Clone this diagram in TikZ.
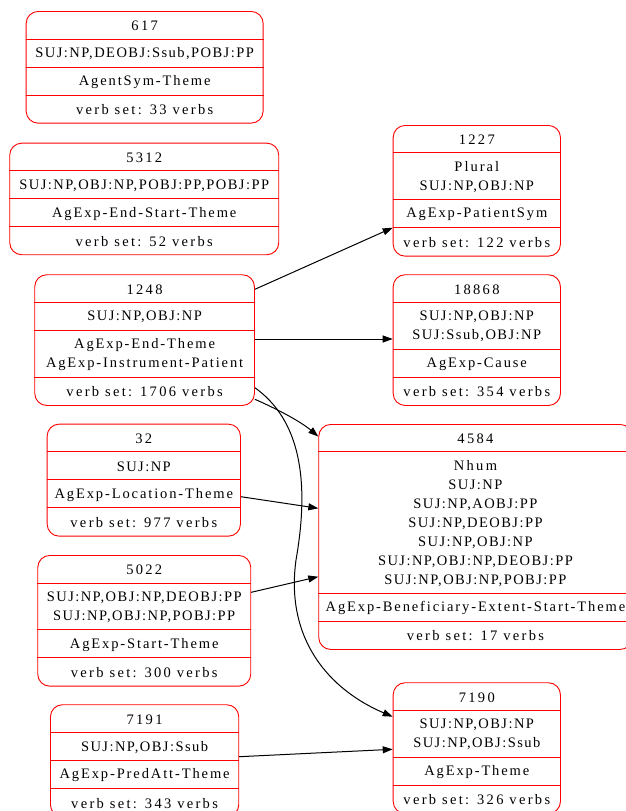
\documentclass[tikz,border=0pt]{standalone}
\usepackage{fontspec}
\setmainfont{Liberation Serif}[LetterSpace=10]
\usetikzlibrary{arrows.meta}
\tikzset{
  recbox/.style={draw=red, line width=0.9pt, rounded corners=12pt, fill=white, inner sep=0pt, anchor=north west},
  divline/.style={draw=red, line width=0.9pt},
  txt/.style={inner sep=0pt, align=center, yshift=-1pt, font=\fontsize{14.5}{19}\selectfont, text=black},
  lab/.style={txt, font=\fontsize{14.5}{19}\selectfont\addfontfeature{LetterSpace=13}},
  cnt/.style={txt, font=\fontsize{14.5}{19}\selectfont\addfontfeature{LetterSpace=16}},
  edge/.style={draw=black, line width=1pt, -{Triangle[length=10pt,width=7pt]}}
}
\begin{document}
\begin{tikzpicture}[x=1pt,y=-1pt]
\clip (0,0) rectangle (626,811);
\useasboundingbox (0,0) rectangle (626,811);

% ---- 617
\node[recbox, minimum width=237pt, minimum height=111.7pt] (n617) at (25.7,11) {};
\foreach \yy in {39,67,95} \draw[divline] (n617.west |- 0,\yy) -- (n617.east |- 0,\yy);
\node[cnt] at (n617.center |- 0,25) {617};
\node[txt] at (n617.center |- 0,53) {SUJ:NP,DEOBJ:Ssub,POBJ:PP};
\node[lab] at (n617.center |- 0,81) {AgentSym-Theme};
\node[cnt] at (n617.center |- 0,109) {verb set: 33 verbs};

% ---- 5312
\node[recbox, minimum width=269pt, minimum height=111.6pt] (n5312) at (9.3,142.7) {};
\foreach \yy in {170.7,198.7,226.7} \draw[divline] (n5312.west |- 0,\yy) -- (n5312.east |- 0,\yy);
\node[cnt] at (n5312.center |- 0,156.7) {5312};
\node[txt] at (n5312.center |- 0,184.7) {SUJ:NP,OBJ:NP,POBJ:PP,POBJ:PP};
\node[lab] at (n5312.center |- 0,212.7) {AgExp-End-Start-Theme};
\node[cnt] at (n5312.center |- 0,240.7) {verb set: 52 verbs};

% ---- 1248
\node[recbox, minimum width=219.7pt, minimum height=130.7pt] (n1248) at (34.3,274.3) {};
\foreach \yy in {302.3,330.3,377} \draw[divline] (n1248.west |- 0,\yy) -- (n1248.east |- 0,\yy);
\node[cnt] at (n1248.center |- 0,288.3) {1248};
\node[txt] at (n1248.center |- 0,316.3) {SUJ:NP,OBJ:NP};
\node[lab] at (n1248.center |- 0,353.7) {AgExp-End-Theme\\AgExp-Instrument-Patient};
\node[cnt] at (n1248.center |- 0,391) {verb set: 1706 verbs};

% ---- 32
\node[recbox, minimum width=193.3pt, minimum height=112pt] (n32) at (46.7,423.7) {};
\foreach \yy in {451.7,479.7,507.7} \draw[divline] (n32.west |- 0,\yy) -- (n32.east |- 0,\yy);
\node[cnt] at (n32.center |- 0,437.7) {32};
\node[txt] at (n32.center |- 0,465.7) {SUJ:NP};
\node[lab] at (n32.center |- 0,493.7) {AgExp-Location-Theme};
\node[cnt] at (n32.center |- 0,521.7) {verb set: 977 verbs};

% ---- 5022
\node[recbox, minimum width=213pt, minimum height=130.7pt] (n5022) at (37.3,555) {};
\foreach \yy in {583,629.7,657.7} \draw[divline] (n5022.west |- 0,\yy) -- (n5022.east |- 0,\yy);
\node[cnt] at (n5022.center |- 0,569) {5022};
\node[txt] at (n5022.center |- 0,606.3) {SUJ:NP,OBJ:NP,DEOBJ:PP\\SUJ:NP,OBJ:NP,POBJ:PP};
\node[lab] at (n5022.center |- 0,643.7) {AgExp-Start-Theme};
\node[cnt] at (n5022.center |- 0,671.7) {verb set: 300 verbs};

% ---- 7191
\node[recbox, minimum width=188.3pt, minimum height=112pt] (n7191) at (50,704.3) {};
\foreach \yy in {732.3,760.3,788.3} \draw[divline] (n7191.west |- 0,\yy) -- (n7191.east |- 0,\yy);
\node[cnt] at (n7191.center |- 0,718.3) {7191};
\node[txt] at (n7191.center |- 0,746.3) {SUJ:NP,OBJ:Ssub};
\node[lab] at (n7191.center |- 0,774.3) {AgExp-PredAtt-Theme};
\node[cnt] at (n7191.center |- 0,802.3) {verb set: 343 verbs};

% ---- 1227
\node[recbox, minimum width=167.3pt, minimum height=130.7pt] (n1227) at (392.7,125) {};
\foreach \yy in {152.3,199.7,227.7} \draw[divline] (n1227.west |- 0,\yy) -- (n1227.east |- 0,\yy);
\node[cnt] at (n1227.center |- 0,138.7) {1227};
\node[txt] at (n1227.center |- 0,176) {{\addfontfeature{LetterSpace=14}Plural}\\SUJ:NP,OBJ:NP};
\node[lab] at (n1227.center |- 0,213.7) {AgExp-PatientSym};
\node[cnt] at (n1227.center |- 0,241.7) {verb set: 122 verbs};

% ---- 18868
\node[recbox, minimum width=167.3pt, minimum height=130.7pt] (n18868) at (392.7,274.3) {};
\foreach \yy in {302.3,349,377} \draw[divline] (n18868.west |- 0,\yy) -- (n18868.east |- 0,\yy);
\node[cnt] at (n18868.center |- 0,288.3) {18868};
\node[txt] at (n18868.center |- 0,325.7) {SUJ:NP,OBJ:NP\\SUJ:Ssub,OBJ:NP};
\node[lab] at (n18868.center |- 0,363) {AgExp-Cause};
\node[cnt] at (n18868.center |- 0,391) {verb set: 354 verbs};

% ---- 4584
\node[recbox, minimum width=313.4pt, minimum height=225pt] (n4584) at (318.3,424) {};
\foreach \yy in {451.7,593,621} \draw[divline] (n4584.west |- 0,\yy) -- (n4584.east |- 0,\yy);
\node[cnt] at (n4584.center |- 0,437.8) {4584};
\node[txt] at (n4584.center |- 0,522.3) {{\addfontfeature{LetterSpace=16}Nhum}\\SUJ:NP\\SUJ:NP,AOBJ:PP\\SUJ:NP,DEOBJ:PP\\SUJ:NP,OBJ:NP\\SUJ:NP,OBJ:NP,DEOBJ:PP\\SUJ:NP,OBJ:NP,POBJ:PP};
\node[lab] at (n4584.center |- 0,607) {AgExp-Beneficiary-Extent-Start-Theme};
\node[cnt] at (n4584.center |- 0,635) {verb set: 17 verbs};

% ---- 7190
\node[recbox, minimum width=167.3pt, minimum height=130.7pt] (n7190) at (392.7,682.3) {};
\foreach \yy in {710.3,757,785} \draw[divline] (n7190.west |- 0,\yy) -- (n7190.east |- 0,\yy);
\node[cnt] at (n7190.center |- 0,696.3) {7190};
\node[txt] at (n7190.center |- 0,733.7) {SUJ:NP,OBJ:NP\\SUJ:NP,OBJ:Ssub};
\node[lab] at (n7190.center |- 0,771) {AgExp-Theme};
\node[cnt] at (n7190.center |- 0,799) {verb set: 326 verbs};

% ---- edges
\draw[edge] (n1248.east |- 0,289.3) -- (n1227.west |- 0,227.7);
\draw[edge] (n1248.east |- 0,339) -- (n18868.west |- 0,339);
\draw[edge] (n1248.east |- 0,399.3) .. controls (275,408) and (300,421) .. (n4584.west |- 0,436.5);
\draw[edge] (n1248.east |- 0,387.7) .. controls (300,420) and (310,480) .. (296,560)
   .. controls (285,640) and (330,690) .. (n7190.west |- 0,716.7);
\draw[edge] (n32.east |- 0,496.7) -- (n4584.west |- 0,508.3);
\draw[edge] (n5022.east |- 0,592.3) -- (n4584.west |- 0,576.7);
\draw[edge] (n7191.east |- 0,756.7) -- (n7190.west |- 0,749.3);
\end{tikzpicture}
\end{document}
